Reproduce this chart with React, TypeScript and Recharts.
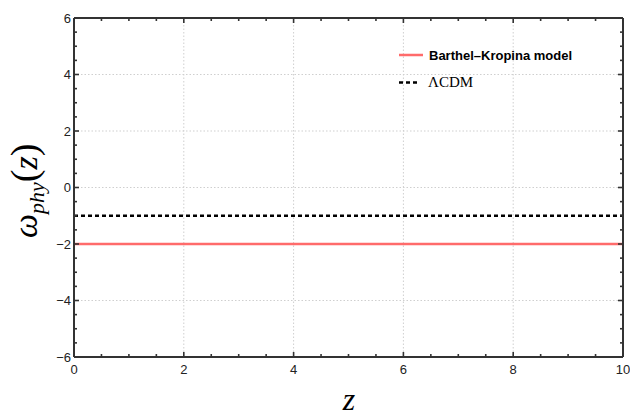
import React from 'react';
import { LineChart, Line, XAxis, YAxis, CartesianGrid } from 'recharts';

const zValues = [0, 1, 2, 3, 4, 5, 6, 7, 8, 9, 10];
const barthelKropina = [-2, -2, -2, -2, -2, -2, -2, -2, -2, -2, -2];
const lambdaCDM = [-1, -1, -1, -1, -1, -1, -1, -1, -1, -1, -1];

const xTicks = [0, 2, 4, 6, 8, 10];
const yTicks = [-6, -4, -2, 0, 2, 4, 6];
const xMinorTicks = [0, 0.5, 1, 1.5, 2, 2.5, 3, 3.5, 4, 4.5, 5, 5.5, 6, 6.5, 7, 7.5, 8, 8.5, 9, 9.5, 10];
const yMinorTicks = [-6, -5.5, -5, -4.5, -4, -3.5, -3, -2.5, -2, -1.5, -1, -0.5, 0, 0.5, 1, 1.5, 2, 2.5, 3, 3.5, 4, 4.5, 5, 5.5, 6];

const seriesNames = ['Barthel\u2013Kropina model', '\u039BCDM'];

const data = zValues.map((z, i) => ({ z, bk: barthelKropina[i], lcdm: lambdaCDM[i] }));

const W = 630;
const H = 419;
const AXIS = '#333333';

const fmt = (v: number) => (v < 0 ? '\u2212' + Math.abs(v) : String(v));

const isMajor = (v: number) => Math.abs(v / 2 - Math.round(v / 2)) < 1e-9;

const makeTick = (side: 'bottom' | 'top' | 'left' | 'right') => (props: any) => {
  const { x, y, payload } = props;
  const v = Number(payload.value);
  const len = isMajor(v) ? 5 : 3;
  let x2 = x;
  let y2 = y;
  if (side === 'bottom') y2 = y - len;
  if (side === 'top') y2 = y + len;
  if (side === 'left') x2 = x + len;
  if (side === 'right') x2 = x - len;
  return <line x1={x} y1={y} x2={x2} y2={y2} stroke={AXIS} strokeWidth={1.6} />;
};

const tickFont = { fontSize: 13, fill: '#222', fontFamily: 'Liberation Sans, Arial, sans-serif' };

export default function App() {
  return (
    <div style={{ position: 'absolute', left: 0, top: 0, width: W, height: H, background: '#fff' }}>
      <LineChart width={W} height={H} data={data} margin={{ top: 18, right: 7, left: 0, bottom: 0 }}>
        <CartesianGrid stroke="#cfcfcf" strokeDasharray="1.5 2" strokeWidth={1} />
        <XAxis
          dataKey="z"
          type="number"
          domain={[0, 10]}
          allowDataOverflow
          ticks={xTicks}
          interval={0}
          height={62}
          tickSize={0}
          tickMargin={8}
          tick={tickFont}
          axisLine={{ stroke: AXIS, strokeWidth: 2 }}
        />
        <YAxis
          type="number"
          domain={[-6, 6]}
          allowDataOverflow
          ticks={yTicks}
          interval={0}
          width={74}
          tickSize={0}
          tickMargin={3}
          tick={tickFont}
          tickFormatter={fmt}
          axisLine={{ stroke: AXIS, strokeWidth: 2 }}
        />
        <XAxis xAxisId="bm" dataKey="z" type="number" orientation="bottom" mirror domain={[0, 10]} allowDataOverflow ticks={xMinorTicks} interval={0} tickSize={0} tickMargin={0} tickLine={false} axisLine={false} tick={makeTick('bottom')} />
        <XAxis xAxisId="tm" dataKey="z" type="number" orientation="top" mirror domain={[0, 10]} allowDataOverflow ticks={xMinorTicks} interval={0} tickSize={0} tickMargin={0} tickLine={false} axisLine={{ stroke: AXIS, strokeWidth: 2 }} tick={makeTick('top')} />
        <YAxis yAxisId="lm" type="number" orientation="left" mirror domain={[-6, 6]} allowDataOverflow ticks={yMinorTicks} interval={0} tickSize={0} tickMargin={0} tickLine={false} axisLine={false} tick={makeTick('left')} />
        <YAxis yAxisId="rm" type="number" orientation="right" mirror domain={[-6, 6]} allowDataOverflow ticks={yMinorTicks} interval={0} tickSize={0} tickMargin={0} tickLine={false} axisLine={{ stroke: AXIS, strokeWidth: 2 }} tick={makeTick('right')} />
        <Line
          type="linear"
          dataKey="lcdm"
          name={seriesNames[1]}
          stroke="#000"
          strokeWidth={2.5}
          strokeDasharray="4 3"
          dot={false}
          isAnimationActive={false}
        />
        <Line
          type="linear"
          dataKey="bk"
          name={seriesNames[0]}
          stroke="#ff6b6b"
          strokeWidth={2.5}
          dot={false}
          isAnimationActive={false}
        />
      </LineChart>
      <svg width={W} height={H} style={{ position: 'absolute', left: 0, top: 0, pointerEvents: 'none' }}>
        <line x1={399} y1={55} x2={423} y2={55} stroke="#ff6b6b" strokeWidth={2.5} />
        <text x={429} y={59.5} fontFamily="Liberation Sans, Arial, sans-serif" fontWeight="bold" fontSize={13} fill="#000">
          {seriesNames[0]}
        </text>
        <line x1={399} y1={82.5} x2={419} y2={82.5} stroke="#000" strokeWidth={2.5} strokeDasharray="4 3" />
        <text x={428} y={86.7} fontFamily="Liberation Serif, Times New Roman, serif" fontSize={15} fill="#000">
          {seriesNames[1]}
        </text>
        <text transform="translate(37,238) rotate(-90)" fontFamily="Liberation Serif, Times New Roman, serif" fontSize={34} fill="#000">
          <tspan fontStyle="italic">ω</tspan>
          <tspan fontStyle="italic" fontSize={22} dy={7}>phy</tspan>
          <tspan dy={-7} fontSize={38}>(</tspan>
          <tspan fontStyle="italic">z</tspan>
          <tspan fontSize={38}>)</tspan>
        </text>
        <text x={349} y={410} textAnchor="middle" fontFamily="Liberation Serif, Times New Roman, serif" fontStyle="italic" fontSize={32} fill="#000">
          z
        </text>
      </svg>
    </div>
  );
}
